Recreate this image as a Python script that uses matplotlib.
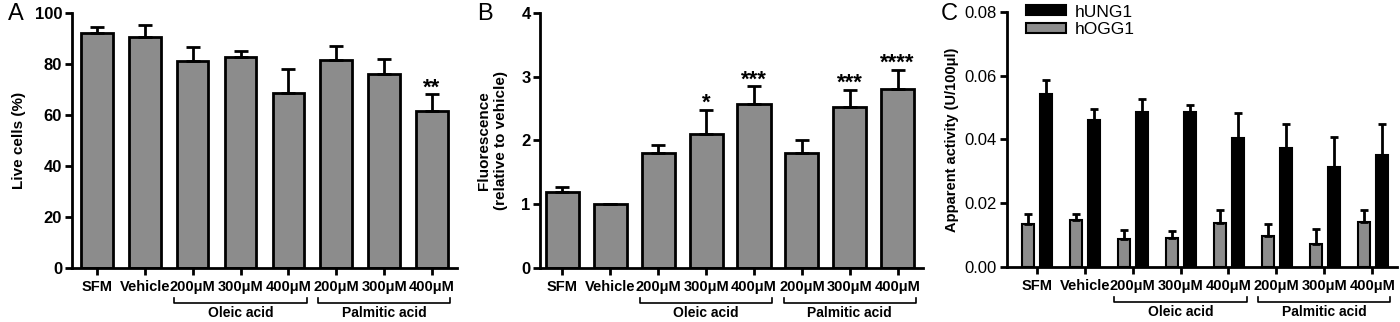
import matplotlib
matplotlib.use('Agg')
import matplotlib.pyplot as plt
import matplotlib.transforms as mtransforms
import numpy as np

plt.rcParams['font.family'] = ['Liberation Sans', 'DejaVu Sans']

labels = ['SFM', 'Vehicle', '200\u03bcM', '300\u03bcM', '400\u03bcM',
          '200\u03bcM', '300\u03bcM', '400\u03bcM']
groups = ['Oleic acid', 'Palmitic acid']

# panel A: live cells (%)
live = [92.2, 90.5, 81.0, 82.7, 68.6, 81.7, 76.1, 61.4]
live_err = [2.3, 4.9, 5.7, 2.4, 9.2, 5.2, 5.9, 6.6]
live_stars = ['', '', '', '', '', '', '', '**']

# panel B: fluorescence relative to vehicle
fluo = [1.19, 1.00, 1.81, 2.10, 2.57, 1.81, 2.53, 2.81]
fluo_err = [0.08, 0.0, 0.12, 0.38, 0.28, 0.19, 0.26, 0.30]
fluo_stars = ['', '', '', '*', '***', '', '***', '****']

# panel C: apparent activity
ung1 = [0.0544, 0.0462, 0.0486, 0.0486, 0.0403, 0.0373, 0.0314, 0.0352]
ung1_err = [0.0042, 0.0034, 0.0042, 0.0023, 0.0081, 0.0075, 0.0093, 0.0096]
ogg1 = [0.0136, 0.0148, 0.0089, 0.0092, 0.0138, 0.0098, 0.0073, 0.0141]
ogg1_err = [0.0031, 0.0017, 0.0028, 0.0021, 0.0042, 0.0036, 0.0046, 0.0037]

gray = '#8c8c8c'
x = np.arange(len(labels))

fig = plt.figure(figsize=(14, 3.22), dpi=100)
axA = fig.add_axes([0.0514, 0.168, 0.275, 0.792])
axB = fig.add_axes([0.386, 0.168, 0.273, 0.792])
axC = fig.add_axes([0.719, 0.171, 0.279, 0.792])


def style(ax, xlim):
    for s in ['top', 'right']:
        ax.spines[s].set_visible(False)
    for s in ['left', 'bottom']:
        ax.spines[s].set_linewidth(2)
    ax.tick_params(axis='both', width=2, length=5, direction='out')
    ax.tick_params(axis='y', pad=2)
    ax.set_xlim(*xlim)
    ax.set_xticks(x)
    ax.set_xticklabels(labels, fontsize=10.5, fontweight='bold')
    trans = mtransforms.blended_transform_factory(ax.transData, ax.transAxes)
    for (a, b), name in zip([(2, 4), (5, 7)], groups):
        ax.plot([a - 0.38, a - 0.38, b + 0.38, b + 0.38],
                [-0.118, -0.137, -0.137, -0.118],
                color='black', lw=1.2, transform=trans, clip_on=False)
        ax.text((a + b) / 2, -0.178, name, transform=trans, ha='center',
                va='center', fontsize=10, fontweight='bold')


def stars(ax, vals, errs, marks):
    for xi, v, e, m in zip(x, vals, errs, marks):
        if m:
            ax.annotate(m, (xi, v + e), xytext=(0, -3), textcoords='offset points',
                        ha='center', va='bottom', fontsize=16, fontweight='bold')


# A
axA.bar(x, live, width=0.66, color=gray, edgecolor='black', linewidth=2,
        yerr=[np.zeros(8), live_err], error_kw=dict(ecolor='black', elinewidth=2,
                                                  capsize=5, capthick=2))
style(axA, (-0.52, 7.52))
axA.set_ylim(0, 100)
axA.set_yticks([0, 20, 40, 60, 80, 100])
axA.set_yticklabels(['0', '20', '40', '60', '80', '100'], fontsize=12, fontweight='bold')
axA.set_ylabel('Live cells (%)', fontsize=11, fontweight='bold', labelpad=6)
stars(axA, live, live_err, live_stars)

# B
axB.bar(x, fluo, width=0.69, color=gray, edgecolor='black', linewidth=2,
        yerr=[np.zeros(8), fluo_err], error_kw=dict(ecolor='black', elinewidth=2,
                                                  capsize=5, capthick=2))
style(axB, (-0.46, 7.52))
axB.set_ylim(0, 4)
axB.set_yticks([0, 1, 2, 3, 4])
axB.set_yticklabels(['0', '1', '2', '3', '4'], fontsize=12, fontweight='bold')
axB.set_ylabel('Fluorescence\n(relative to vehicle)', fontsize=11,
               fontweight='bold', labelpad=10)
stars(axB, fluo, fluo_err, fluo_stars)

# C
axC.bar(x + 0.2, ung1, width=0.25, color='black', edgecolor='black', linewidth=1.5,
        label='hUNG1',
        yerr=[np.zeros(8), ung1_err], error_kw=dict(ecolor='black', elinewidth=2,
                                                  capsize=3, capthick=2))
axC.bar(x - 0.18, ogg1, width=0.25, color=gray, edgecolor='black', linewidth=1.5,
        label='hOGG1',
        yerr=[np.zeros(8), ogg1_err], error_kw=dict(ecolor='black', elinewidth=2,
                                                  capsize=3, capthick=2))
style(axC, (-0.63, 7.52))
axC.set_ylim(0, 0.08)
axC.set_yticks([0, 0.02, 0.04, 0.06, 0.08])
axC.set_yticklabels(['0.00', '0.02', '0.04', '0.06', '0.08'], fontsize=12)
axC.set_ylabel('Apparent activity (U/100\u03bcl)', fontsize=10.5,
               fontweight='bold', labelpad=4)
axC.legend(loc='upper left', bbox_to_anchor=(0.01, 1.09), frameon=False,
           fontsize=12.5, handlelength=2.3, handleheight=0.5, labelspacing=0.15,
           handletextpad=0.5)

for lx, letter in [(0.006, 'A'), (0.341, 'B'), (0.672, 'C')]:
    fig.text(lx, 0.955, letter, fontsize=17, va='center')

fig.savefig('out.png', dpi=100)
